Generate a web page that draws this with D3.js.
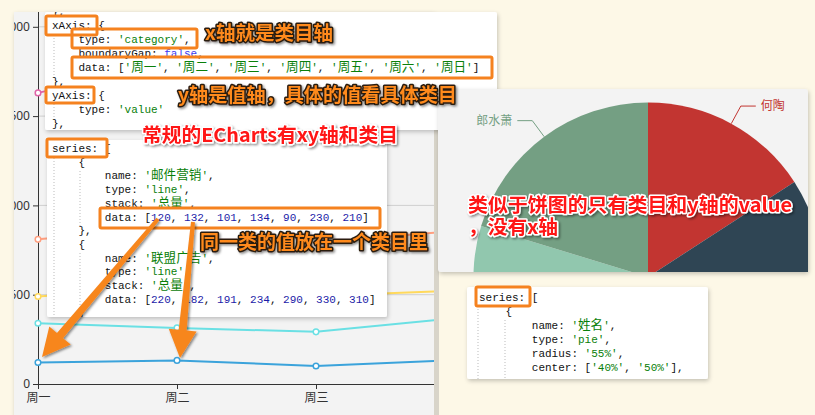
<!DOCTYPE html>
<html lang="zh">
<head>
  <meta charset="UTF-8">
  <title>ECharts 坐标轴与饼图说明</title>
  <script src="https://d3js.org/d3.v7.min.js"></script>
  <style>
      body {
          margin: 0;
          padding: 0;
          overflow: hidden;
          background: #fdf8e7;
      }
      svg { display: block; }
      .code text { white-space: pre; }
  </style>
</head>
<body>
  <svg width="815" height="415"></svg>
  <script>
      // ---- data ----
      const days = ["周一", "周二", "周三", "周四", "周五", "周六", "周日"];
      const seriesNames = ["邮件营销", "联盟广告", "视频广告", "直接访问", "搜索引擎"];
      const mail = [120, 132, 101, 134, 90, 230, 210];
      const union = [220, 182, 191, 234, 290, 330, 310];
      const video = [150, 232, 201, 154, 190, 330, 410];
      const direct = [320, 332, 301, 334, 390, 330, 320];
      const search = [820, 932, 901, 934, 1290, 1330, 1320];
      const yTicks = [0, 500, 1000, 1500, 2000, 2500];
      const lineColors = ["#3ba3db", "#6ae0e4", "#ffd95c", "#ff9f7f", "#e064a8"];

      // pie slices (only two labels are visible)
      const pieNames = ["何陶", "", "", "", "", "郎水萧"];
      const pieValues = [57, 55, 60, 55, 60, 73];
      const pieColors = ["#c23531", "#2f4554", "#61a0a8", "#d48265", "#91c7ae", "#749f83"];

      const svg = d3.select("svg");
      const defs = svg.append("defs");

      const boxShadow = defs.append("filter").attr("id", "boxShadow")
          .attr("x", "-10%").attr("y", "-10%").attr("width", "120%").attr("height", "120%");
      boxShadow.append("feDropShadow").attr("dx", 1).attr("dy", 2)
          .attr("stdDeviation", 2).attr("flood-color", "#000").attr("flood-opacity", 0.22);

      const txtShadow = defs.append("filter").attr("id", "txtShadow")
          .attr("x", "-10%").attr("y", "-30%").attr("width", "120%").attr("height", "160%");
      txtShadow.append("feDropShadow").attr("dx", 1.5).attr("dy", 1.5)
          .attr("stdDeviation", 1.2).attr("flood-color", "#000").attr("flood-opacity", 0.45);

      function clip(id, x, y, w, h) {
          defs.append("clipPath").attr("id", id)
              .append("rect").attr("x", x).attr("y", y).attr("width", w).attr("height", h);
          return `url(#${id})`;
      }

      // ---- left panel: stacked line chart ----
      const panel = { x: 14, y: 12, w: 420, h: 410 };
      svg.append("rect")
          .attr("x", panel.x).attr("y", panel.y).attr("width", panel.w).attr("height", panel.h)
          .attr("fill", "#f3f3f3").attr("filter", "url(#boxShadow)");
      svg.append("rect")
          .attr("x", panel.x + panel.w).attr("y", panel.y).attr("width", 5).attr("height", panel.h)
          .attr("fill", "#d8d4c9");

      const chart = svg.append("g").attr("clip-path", clip("chartClip", panel.x, panel.y, panel.w, panel.h));

      const x = d3.scalePoint().domain(days).range([38, 38 + 139 * 6]);
      const y = d3.scaleLinear().domain([0, 2500]).range([384, 384 - 5 * 89.3]);

      chart.append("g")
          .selectAll("line")
          .data(yTicks.filter(d => d > 0))
          .join("line")
          .attr("x1", 38).attr("x2", panel.x + panel.w)
          .attr("y1", d => y(d)).attr("y2", d => y(d))
          .attr("stroke", "#cfcfcf");

      const yAxis = chart.append("g")
          .attr("transform", "translate(38,0)")
          .call(d3.axisLeft(y).tickValues(yTicks).tickSize(5).tickSizeOuter(0).tickPadding(3));
      yAxis.select(".domain").attr("stroke", "#333");
      yAxis.selectAll(".tick line").attr("stroke", "#333");
      yAxis.selectAll("text").attr("font-family", "'Noto Sans', sans-serif")
          .attr("font-size", 12).attr("fill", "#333");

      const xAxis = chart.append("g")
          .attr("transform", "translate(0,384)")
          .call(d3.axisBottom(x).tickSize(5).tickSizeOuter(0).tickPadding(4));
      xAxis.select(".domain").attr("stroke", "#333");
      xAxis.selectAll(".tick line").attr("stroke", "#333");
      xAxis.selectAll("text").attr("font-family", "'Noto Sans CJK SC', sans-serif")
          .attr("font-size", 12).attr("fill", "#333");

      const rows = days.map((d, i) => ({
          day: d, "邮件营销": mail[i], "联盟广告": union[i], "视频广告": video[i],
          "直接访问": direct[i], "搜索引擎": search[i]
      }));
      const stacked = d3.stack().keys(seriesNames)(rows);

      const line = d3.line().x(d => x(d.data.day)).y(d => y(d[1]));
      stacked.forEach((s, i) => {
          chart.append("path")
              .datum(s)
              .attr("d", line)
              .attr("fill", "none")
              .attr("stroke", lineColors[i])
              .attr("stroke-width", 2);
          chart.append("g")
              .selectAll("circle")
              .data(s)
              .join("circle")
              .attr("cx", d => x(d.data.day))
              .attr("cy", d => y(d[1]))
              .attr("r", 2.8)
              .attr("fill", "#fff")
              .attr("stroke", lineColors[i])
              .attr("stroke-width", 1.5);
      });

      // ---- code snippets ----
      const charW = 6.6;
      function isCJK(ch) { return /[\u3000-\u9fff\uff00-\uffef]/.test(ch); }

      function drawCode(g, lines, x0, y0, lh, guides) {
          guides.forEach(gd => {
              g.append("line")
                  .attr("x1", gd.x).attr("x2", gd.x).attr("y1", gd.y1).attr("y2", gd.y2)
                  .attr("stroke", "#bbb").attr("stroke-dasharray", "1,2");
          });
          lines.forEach((ln, i) => {
              const lead = ln.match(/^ */)[0].length;
              const t = g.append("text")
                  .attr("x", x0 + lead * charW)
                  .attr("y", y0 + i * lh)
                  .attr("font-family", "'Liberation Mono', monospace")
                  .attr("font-size", 11);
              ln.slice(lead).split(/('[^']*'|\b\d+\b|\bfalse\b)/).forEach(part => {
                  if (!part) return;
                  let col = "#111";
                  if (part[0] === "'") col = "#0a800a";
                  else if (/^\d+$/.test(part)) col = "#1c1ca8";
                  else if (part === "false") col = "#3b3bf0";
                  // split CJK runs so they get a CJK face and wider advance
                  let run = "", cjk = null;
                  const flush = () => {
                      if (!run) return;
                      const sp = t.append("tspan").attr("fill", col).text(run);
                      if (cjk) sp.attr("font-family", "'Noto Sans CJK SC', sans-serif").attr("font-size", 12.6);
                      run = "";
                  };
                  for (const ch of part) {
                      const c = isCJK(ch);
                      if (cjk !== null && c !== cjk) flush();
                      cjk = c;
                      run += ch;
                  }
                  flush();
              });
          });
      }

      function codeBox(id, bx, by, bw, bh) {
          svg.append("rect").attr("x", bx).attr("y", by).attr("width", bw).attr("height", bh)
              .attr("rx", 2).attr("fill", "#fff").attr("filter", "url(#boxShadow)");
          return svg.append("g").attr("class", "code").attr("clip-path", clip(id, bx, by, bw, bh));
      }

      const code1 = [
          "},",
          "xAxis: {",
          "    type: 'category',",
          "    boundaryGap: false,",
          "    data: [" + days.map(d => `'${d}'`).join(", ") + "]",
          "},",
          "yAxis: {",
          "    type: 'value'",
          "},"
      ];
      const code2 = [
          "series: [",
          "    {",
          `        name: '${seriesNames[0]}',`,
          "        type: 'line',",
          "        stack: '总量',",
          `        data: [${mail.join(", ")}]`,
          "    },",
          "    {",
          `        name: '${seriesNames[1]}',`,
          "        type: 'line',",
          "        stack: '总量',",
          `        data: [${union.join(", ")}]`,
          "    }"
      ];
      const code3 = [
          "series: [",
          "    {",
          "        name: '姓名',",
          "        type: 'pie',",
          "        radius: '55%',",
          "        center: ['40%', '50%'],"
      ];

      const g1 = codeBox("c1", 45, 12, 452, 118);
      drawCode(g1, code1, 52, 15, 14, [{ x: 54, y1: 35, y2: 79 }, { x: 54, y1: 104, y2: 121 }]);

      const g2 = codeBox("c2", 47, 140, 340, 177);

      // ---- right panel: pie ----
      const pp = { x: 438, y: 89, w: 370, h: 183 };
      svg.append("rect")
          .attr("x", pp.x).attr("y", pp.y).attr("width", pp.w).attr("height", pp.h)
          .attr("rx", 3).attr("fill", "#f3f3f3").attr("filter", "url(#boxShadow)");
      const pieG = svg.append("g")
          .attr("clip-path", clip("pieClip", pp.x, pp.y, pp.w, pp.h))
          .append("g").attr("transform", "translate(648,277)");
      const r = 174.5;
      const arcs = d3.pie().sort(null).value(d => d)(pieValues);
      pieG.selectAll("path")
          .data(arcs)
          .join("path")
          .attr("d", d3.arc().innerRadius(0).outerRadius(r))
          .attr("fill", (d, i) => pieColors[i]);

      arcs.forEach((a, i) => {
          if (!pieNames[i]) return;
          const mid = (a.startAngle + a.endAngle) / 2;
          const p1 = [Math.sin(mid) * r, -Math.cos(mid) * r];
          const p2 = [Math.sin(mid) * (r + 20), -Math.cos(mid) * (r + 20)];
          const right = Math.sin(mid) > 0;
          const p3 = [p2[0] + (right ? 15 : -15), p2[1]];
          pieG.append("polyline")
              .attr("points", [p1, p2, p3].map(p => p.join(",")).join(" "))
              .attr("fill", "none").attr("stroke", pieColors[i]).attr("stroke-width", 1);
          pieG.append("text")
              .attr("x", p3[0] + (right ? 5 : -5))
              .attr("y", p3[1])
              .attr("dy", "0.35em")
              .attr("text-anchor", right ? "start" : "end")
              .attr("font-family", "'Noto Sans CJK SC', sans-serif")
              .attr("font-size", 12)
              .attr("fill", pieColors[i])
              .text(pieNames[i]);
      });

      drawCode(g2, code2, 52, 152, 13.7, [{ x: 54, y1: 158, y2: 317 }, { x: 80, y1: 171, y2: 228 }, { x: 80, y1: 253, y2: 317 }]);

      const g3 = codeBox("c3", 467, 287, 241, 92);
      drawCode(g3, code3, 479, 301, 14, [{ x: 478, y1: 306, y2: 379 }, { x: 505, y1: 320, y2: 379 }]);

      // ---- orange highlight frames ----
      const frames = [
          [46, 16, 51, 19], [72, 29, 125, 19], [72, 57, 420, 21], [46, 87, 48, 16],
          [47, 139, 60, 18], [100, 208, 280, 20], [476, 287, 54, 19]
      ];
      svg.append("g").selectAll("rect")
          .data(frames)
          .join("rect")
          .attr("x", d => d[0]).attr("y", d => d[1])
          .attr("width", d => d[2]).attr("height", d => d[3])
          .attr("rx", 1.5)
          .attr("fill", "none").attr("stroke", "#f5821f").attr("stroke-width", 3);

      // ---- arrows ----
      function arrowPath(x1, y1, x2, y2, w1, w2, hl, hw) {
          const L = Math.hypot(x2 - x1, y2 - y1);
          const ux = (x2 - x1) / L, uy = (y2 - y1) / L, nx = -uy, ny = ux;
          const bx = x2 - ux * hl, by = y2 - uy * hl;
          const pts = [
              [x1 + nx * w1 / 2, y1 + ny * w1 / 2],
              [bx + nx * w2 / 2, by + ny * w2 / 2],
              [bx + nx * hw, by + ny * hw],
              [x2, y2],
              [bx - nx * hw, by - ny * hw],
              [bx - nx * w2 / 2, by - ny * w2 / 2],
              [x1 - nx * w1 / 2, y1 - ny * w1 / 2]
          ];
          return "M" + pts.map(p => p.join(",")).join("L") + "Z";
      }
      const arrows = [[158, 219, 42, 357], [193, 222, 180, 358]];
      svg.append("g").selectAll("path")
          .data(arrows)
          .join("path")
          .attr("d", d => arrowPath(d[0], d[1], d[2], d[3], 4, 8, 28, 14))
          .attr("fill", "#f7861f")
          .attr("filter", "url(#txtShadow)");

      // ---- annotation captions ----
      const notes = [
          { t: "x轴就是类目轴", x: 205, y: 33, w: 128, kind: "orange" },
          { t: "y轴是值轴，具体的值看具体类目", x: 178, y: 95, w: 279, kind: "orange" },
          { t: "常规的ECharts有xy轴和类目", x: 142, y: 135, w: 256, kind: "red" },
          { t: "同一类的值放在一个类目里", x: 200, y: 242, w: 228, kind: "orange" },
          { t: "类似于饼图的只有类目和y轴的value", x: 468, y: 205, w: 324, kind: "red" },
          { t: "，没有x轴", x: 468, y: 227, w: 90, kind: "red" }
      ];
      svg.append("g").selectAll("text")
          .data(notes)
          .join("text")
          .attr("x", d => d.x)
          .attr("y", d => d.y)
          .attr("dy", "0.36em")
          .attr("textLength", d => d.w)
          .attr("lengthAdjust", "spacingAndGlyphs")
          .attr("font-family", "'Noto Sans CJK SC', sans-serif")
          .attr("font-weight", 700)
          .attr("font-size", 19)
          .attr("fill", d => d.kind === "orange" ? "#ff8a1c" : "#ff1212")
          .attr("stroke", d => d.kind === "orange" ? "#2a1c10" : "#fff")
          .attr("stroke-width", 3)
          .attr("stroke-linejoin", "round")
          .attr("paint-order", "stroke")
          .attr("filter", "url(#txtShadow)")
          .text(d => d.t);
  </script>
</body>
</html>
